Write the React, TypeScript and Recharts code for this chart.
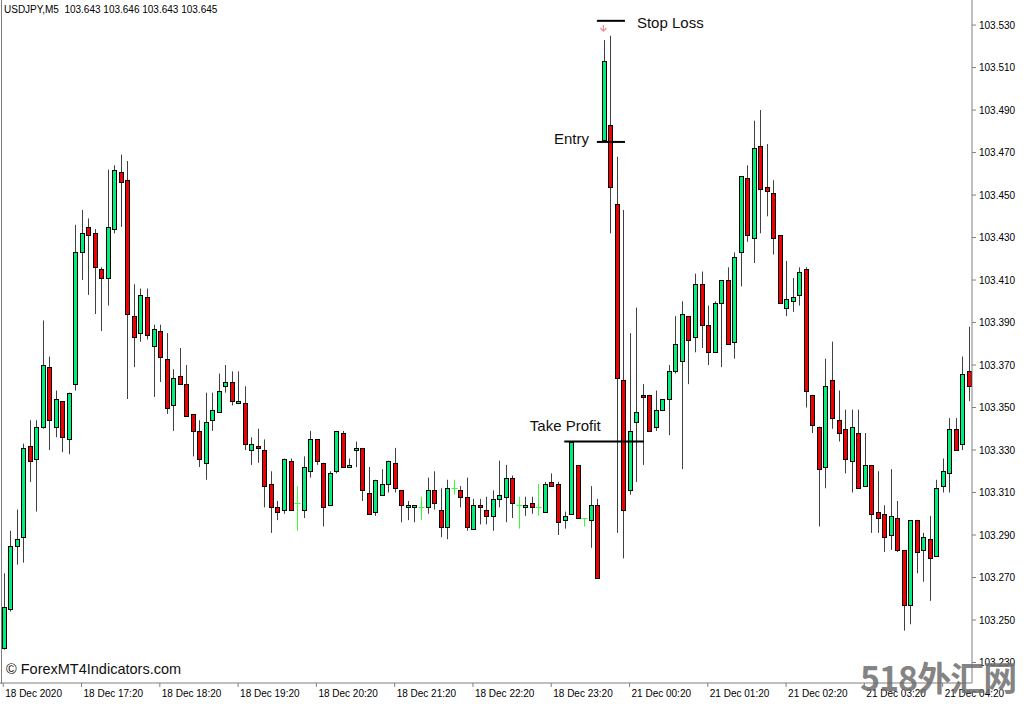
import React from 'react';
import { ComposedChart, Bar, XAxis, YAxis, ReferenceLine, ReferenceDot } from 'recharts';

// USDJPY M5, 18 Dec 16:20 -> 21 Dec 04:40 (one bar per entry)
const opens = [
  103.237, 103.255, 103.285, 103.289, 103.332, 103.326, 103.341, 103.369, 103.341, 103.353,
  103.335, 103.361, 103.423, 103.435, 103.432, 103.415, 103.411, 103.434, 103.461, 103.457,
  103.393, 103.385, 103.402, 103.379, 103.386, 103.373, 103.351, 103.365, 103.361, 103.347,
  103.339, 103.324, 103.344, 103.348, 103.360, 103.362, 103.352, 103.352, 103.330, 103.332,
  103.330, 103.314, 103.303, 103.302, 103.325, 103.305, 103.302, 103.320, 103.335, 103.324,
  103.304, 103.320, 103.338, 103.322, 103.330, 103.331, 103.310, 103.301, 103.309, 103.314,
  103.324, 103.311, 103.303, 103.303, 103.303, 103.303, 103.311, 103.302, 103.294, 103.312,
  103.311, 103.308, 103.293, 103.304, 103.302, 103.299, 103.307, 103.308, 103.317, 103.304,
  103.303, 103.305, 103.303, 103.301, 103.315, 103.314, 103.297, 103.300, 103.323, 103.298,
  103.297, 103.304, 103.476, 103.483, 103.446, 103.363, 103.311, 103.343, 103.356, 103.356,
  103.341, 103.349, 103.354, 103.367, 103.372, 103.393, 103.383, 103.408, 103.389, 103.376,
  103.399, 103.410, 103.381, 103.423, 103.458, 103.430, 103.473, 103.454, 103.451, 103.431,
  103.397, 103.400, 103.403, 103.415, 103.356, 103.341, 103.322, 103.363, 103.344, 103.340,
  103.325, 103.338, 103.313, 103.323, 103.301, 103.300, 103.290, 103.298, 103.283, 103.257,
  103.297, 103.283, 103.288, 103.280, 103.313, 103.319, 103.340, 103.333, 103.367,
];
const highs = [
  103.272, 103.292, 103.302, 103.333, 103.344, 103.344, 103.391, 103.374, 103.358, 103.353,
  103.357, 103.436, 103.443, 103.439, 103.434, 103.416, 103.462, 103.464, 103.469, 103.466,
  103.408, 103.406, 103.406, 103.389, 103.389, 103.385, 103.368, 103.378, 103.370, 103.347,
  103.344, 103.357, 103.357, 103.366, 103.370, 103.367, 103.367, 103.360, 103.336, 103.340,
  103.335, 103.320, 103.306, 103.326, 103.326, 103.313, 103.327, 103.339, 103.335, 103.324,
  103.320, 103.339, 103.339, 103.326, 103.334, 103.331, 103.322, 103.316, 103.321, 103.325,
  103.331, 103.311, 103.306, 103.304, 103.308, 103.317, 103.320, 103.312, 103.316, 103.316,
  103.313, 103.317, 103.307, 103.307, 103.308, 103.311, 103.325, 103.323, 103.318, 103.308,
  103.308, 103.308, 103.314, 103.315, 103.319, 103.315, 103.301, 103.334, 103.323, 103.298,
  103.313, 103.307, 103.523, 103.525, 103.468, 103.443, 103.385, 103.397, 103.361, 103.356,
  103.358, 103.354, 103.370, 103.393, 103.400, 103.393, 103.413, 103.414, 103.398, 103.400,
  103.410, 103.416, 103.423, 103.459, 103.464, 103.485, 103.490, 103.474, 103.457, 103.431,
  103.419, 103.411, 103.416, 103.416, 103.356, 103.341, 103.373, 103.381, 103.358, 103.349,
  103.349, 103.349, 103.338, 103.323, 103.320, 103.304, 103.321, 103.306, 103.283, 103.297,
  103.297, 103.291, 103.299, 103.316, 103.326, 103.345, 103.345, 103.374, 103.388,
];
const lows = [
  103.236, 103.254, 103.276, 103.277, 103.315, 103.301, 103.340, 103.330, 103.336, 103.329,
  103.328, 103.358, 103.410, 103.403, 103.394, 103.386, 103.398, 103.432, 103.435, 103.354,
  103.369, 103.381, 103.382, 103.355, 103.362, 103.347, 103.339, 103.361, 103.346, 103.327,
  103.322, 103.316, 103.339, 103.348, 103.357, 103.351, 103.352, 103.330, 103.323, 103.324,
  103.303, 103.291, 103.297, 103.300, 103.302, 103.292, 103.298, 103.317, 103.323, 103.294,
  103.304, 103.319, 103.322, 103.322, 103.322, 103.306, 103.300, 103.299, 103.309, 103.310,
  103.310, 103.296, 103.297, 103.296, 103.297, 103.300, 103.302, 103.289, 103.288, 103.309,
  103.303, 103.292, 103.293, 103.295, 103.295, 103.292, 103.303, 103.296, 103.298, 103.293,
  103.299, 103.300, 103.299, 103.301, 103.313, 103.290, 103.293, 103.300, 103.298, 103.294,
  103.284, 103.270, 103.476, 103.432, 103.291, 103.279, 103.309, 103.315, 103.323, 103.339,
  103.339, 103.349, 103.337, 103.366, 103.321, 103.361, 103.376, 103.378, 103.370, 103.376,
  103.369, 103.380, 103.373, 103.407, 103.428, 103.418, 103.432, 103.440, 103.422, 103.399,
  103.393, 103.395, 103.398, 103.350, 103.338, 103.294, 103.312, 103.340, 103.334, 103.319,
  103.310, 103.312, 103.313, 103.291, 103.291, 103.282, 103.283, 103.282, 103.245, 103.248,
  103.272, 103.268, 103.259, 103.280, 103.310, 103.310, 103.330, 103.330, 103.353,
];
const closes = [
  103.256, 103.285, 103.288, 103.331, 103.325, 103.341, 103.370, 103.344, 103.354, 103.336,
  103.357, 103.423, 103.432, 103.431, 103.416, 103.411, 103.435, 103.462, 103.456, 103.394,
  103.383, 103.403, 103.384, 103.387, 103.374, 103.350, 103.364, 103.361, 103.346, 103.339,
  103.326, 103.343, 103.349, 103.358, 103.362, 103.353, 103.353, 103.333, 103.333, 103.331,
  103.313, 103.303, 103.301, 103.326, 103.302, 103.305, 103.322, 103.335, 103.325, 103.303,
  103.319, 103.339, 103.322, 103.323, 103.331, 103.311, 103.300, 103.316, 103.314, 103.325,
  103.312, 103.304, 103.304, 103.304, 103.303, 103.311, 103.305, 103.294, 103.312, 103.312,
  103.308, 103.294, 103.304, 103.303, 103.299, 103.307, 103.309, 103.317, 103.305, 103.304,
  103.304, 103.303, 103.303, 103.314, 103.313, 103.296, 103.299, 103.334, 103.298, 103.298,
  103.304, 103.270, 103.513, 103.454, 103.364, 103.302, 103.339, 103.348, 103.355, 103.339,
  103.349, 103.354, 103.367, 103.380, 103.394, 103.382, 103.408, 103.389, 103.376, 103.399,
  103.410, 103.380, 103.421, 103.459, 103.431, 103.472, 103.453, 103.452, 103.430, 103.399,
  103.401, 103.402, 103.414, 103.358, 103.342, 103.321, 103.360, 103.345, 103.338, 103.326,
  103.341, 103.312, 103.323, 103.300, 103.298, 103.289, 103.299, 103.283, 103.257, 103.297,
  103.282, 103.289, 103.279, 103.312, 103.320, 103.340, 103.330, 103.366, 103.360,
];

const timeTickIndexes = [0, 12, 24, 36, 48, 60, 72, 84, 96, 108, 120, 132, 144];
const timeTickLabels = [
  '18 Dec 2020', '18 Dec 17:20', '18 Dec 18:20', '18 Dec 19:20', '18 Dec 20:20',
  '18 Dec 21:20', '18 Dec 22:20', '18 Dec 23:20', '21 Dec 00:20', '21 Dec 01:20',
  '21 Dec 02:20', '21 Dec 03:20', '21 Dec 04:20',
];
const priceTicks = [
  103.23, 103.25, 103.27, 103.29, 103.31, 103.33, 103.35, 103.37,
  103.39, 103.41, 103.43, 103.45, 103.47, 103.49, 103.51, 103.53,
];

// trade levels drawn on the chart
const stopLossPrice = 103.532;
const entryPrice = 103.475;
const takeProfitPrice = 103.334;
const levelFrom = 91.0;
const levelTo = 95.3;
const tpFrom = 86.0;
const tpTo = 98.2;
const signalBar = 92;
const signalPrice = 103.5286;

const data = opens.map((o, i) => ({
  i,
  o,
  h: highs[i],
  l: lows[i],
  c: closes[i],
  range: [lows[i], highs[i]],
}));

const FONT = '"Liberation Sans", Arial, sans-serif';

const Candle = (props: any) => {
  const { x, y, width, height, payload } = props;
  const { o, h, l, c } = payload;
  const span = h - l || 1e-9;
  const py = (p: number) => y + ((h - p) / span) * height;
  const cx = Math.round(x + width / 2) + 0.5;

  if (o === c) {
    const yo = Math.round(py(o)) + 0.5;
    return (
      <g>
        <line x1={cx} x2={cx} y1={py(h)} y2={py(l)} stroke="#33ff33" strokeWidth={1} />
        <line x1={cx - 3} x2={cx + 3} y1={yo} y2={yo} stroke="#33ff33" strokeWidth={1} />
      </g>
    );
  }

  const up = c > o;
  const top = Math.round(py(Math.max(o, c))) + 0.5;
  const bot = Math.round(py(Math.min(o, c))) + 0.5;
  return (
    <g>
      <line x1={cx} x2={cx} y1={py(h)} y2={py(l)} stroke="#404040" strokeWidth={1} />
      <rect
        x={cx - 2}
        y={top}
        width={4}
        height={Math.max(bot - top, 1)}
        fill={up ? '#00ee7c' : '#f00000'}
        stroke="#000"
        strokeWidth={1}
      />
    </g>
  );
};

const TimeTick = (props: any) => {
  const { x, y, payload } = props;
  const idx = timeTickIndexes.indexOf(payload.value);
  return (
    <text x={x + 2} y={y + 8} fontSize={10} fill="#000" fontFamily={FONT}>
      {timeTickLabels[idx]}
    </text>
  );
};

const SignalArrow = (props: any) => {
  const { cx, cy } = props;
  return (
    <g stroke="#f08c8c" strokeWidth={1.2} fill="none">
      <line x1={cx} x2={cx} y1={cy - 3} y2={cy + 3} />
      <polyline points={`${cx - 3},${cy} ${cx},${cy + 3} ${cx + 3},${cy}`} />
    </g>
  );
};

const levelText = (text: string, dx: number, dy: number, anchor: 'start' | 'end' | 'middle', fromEnd: boolean) =>
  (p: any) => {
    const vb = p.viewBox || {};
    const bx = fromEnd ? vb.x + vb.width : vb.x;
    return (
      <text x={bx + dx} y={vb.y + dy} textAnchor={anchor} fontSize={15} fill="#111" fontFamily={FONT}>
        {text}
      </text>
    );
  };

export default function App() {
  return (
    <div style={{ position: 'absolute', left: 0, top: 0, width: 1024, height: 704, background: '#fff', overflow: 'hidden' }}>
      <ComposedChart width={1024} height={704} data={data} margin={{ top: 0, right: 0, bottom: 0, left: 0 }}>
        <XAxis
          dataKey="i"
          type="number"
          domain={[-0.5, 148.5]}
          ticks={timeTickIndexes}
          interval={0}
          height={21}
          tickSize={4}
          tickMargin={2}
          axisLine={{ stroke: '#808080' }}
          tickLine={{ stroke: '#808080' }}
          tick={<TimeTick />}
          allowDataOverflow
        />
        <YAxis
          orientation="right"
          width={52}
          domain={[103.22035, 103.5418]}
          allowDataOverflow
          ticks={priceTicks}
          interval={0}
          tickFormatter={(v: number) => v.toFixed(3)}
          tickSize={4}
          tickMargin={3}
          axisLine={{ stroke: '#808080' }}
          tickLine={{ stroke: '#808080' }}
          tick={{ fontSize: 10, fill: '#000', fontFamily: FONT }}
        />
        <Bar dataKey="range" barSize={5} shape={<Candle />} isAnimationActive={false} />
        <ReferenceLine
          segment={[{ x: levelFrom, y: stopLossPrice }, { x: levelTo, y: stopLossPrice }]}
          stroke="#000"
          strokeWidth={2}
          ifOverflow="visible"
          label={{ content: levelText('Stop Loss', 12, 7, 'start', true) }}
        />
        <ReferenceLine
          segment={[{ x: levelFrom, y: entryPrice }, { x: levelTo, y: entryPrice }]}
          stroke="#000"
          strokeWidth={2}
          ifOverflow="visible"
          label={{ content: levelText('Entry', -8, 2, 'end', false) }}
        />
        <ReferenceLine
          segment={[{ x: tpFrom, y: takeProfitPrice }, { x: tpTo, y: takeProfitPrice }]}
          stroke="#000"
          strokeWidth={2}
          ifOverflow="visible"
          label={{ content: levelText('Take Profit', 1, -11, 'middle', false) }}
        />
        <ReferenceDot x={signalBar} y={signalPrice} r={3} ifOverflow="visible" shape={<SignalArrow />} />
      </ComposedChart>
      <div style={{ position: 'absolute', left: 1, top: 0, width: 1, height: 684, background: '#808080' }} />
      <div style={{ position: 'absolute', left: 4, top: 4, fontSize: 10, lineHeight: '12px', fontFamily: FONT, color: '#000', whiteSpace: 'pre' }}>
        {'USDJPY,M5  103.643 103.646 103.643 103.645'}
      </div>
      <div style={{ position: 'absolute', left: 6, top: 661, fontSize: 14.5, lineHeight: '17px', fontFamily: FONT, color: '#111' }}>
        © ForexMT4Indicators.com
      </div>
      <div
        style={{
          position: 'absolute',
          left: 860,
          top: 655,
          fontSize: 34,
          lineHeight: '44px',
          fontWeight: 700,
          fontFamily: '"Noto Sans CJK SC", sans-serif',
          color: 'rgba(110,110,110,0.85)',
          letterSpacing: -1,
        }}
      >
        518外汇网
      </div>
    </div>
  );
}
